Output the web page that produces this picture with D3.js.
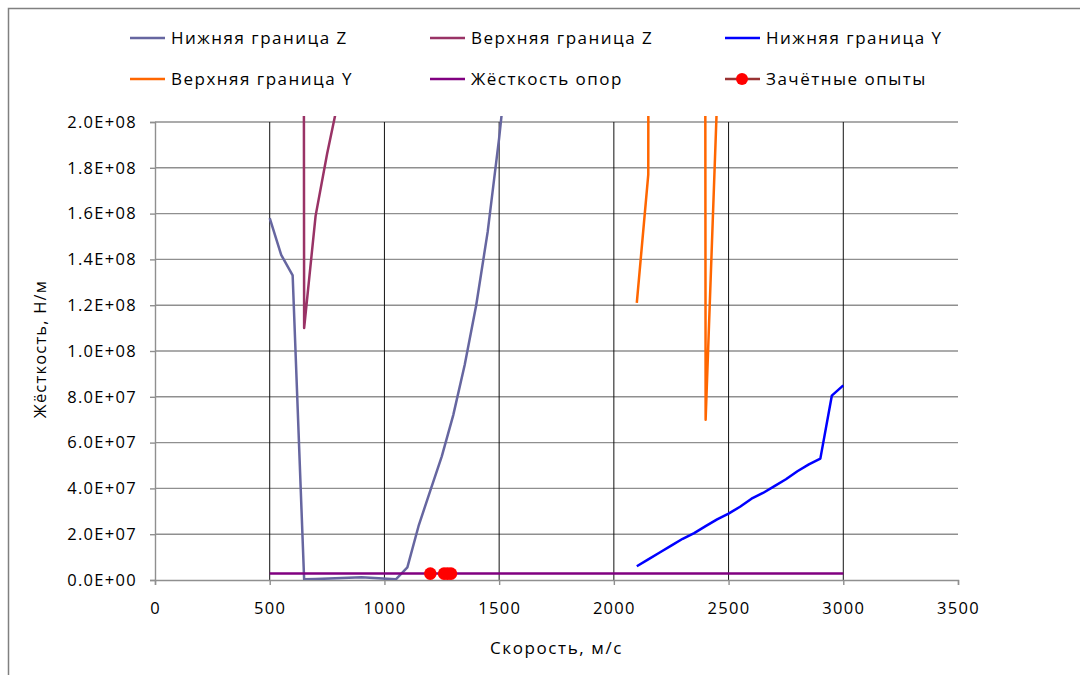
<!DOCTYPE html>
<html>
<head>
<meta charset="utf-8">
<script src="https://cdn.jsdelivr.net/npm/d3@7"></script>
<style>
  body { margin: 0; background: #fff; }
  text { font-family: "Open Sans", "Noto Sans", sans-serif; fill: #000; }
</style>
</head>
<body>
<div id="chart"></div>
<script>
// series data
const zLowX = [500, 550, 600, 650, 700, 900, 1050, 1100, 1150, 1200, 1250, 1300, 1350, 1400, 1450, 1500, 1550];
const zLowY = [1.58e8, 1.42e8, 1.33e8, 0.3e6, 0.4e6, 1.2e6, 0.3e6, 5.5e6, 2.4e7, 3.9e7, 5.4e7, 7.2e7, 9.4e7, 1.2e8, 1.52e8, 1.93e8, 2.4e8];

const zHighX = [600, 650, 700, 750, 800];
const zHighY = [5e9, 1.1e8, 1.59e8, 1.86e8, 2.1e8];

const yLowX = [2100, 2150, 2200, 2250, 2300, 2350, 2400, 2450, 2500, 2550, 2600, 2650, 2700, 2750, 2800, 2850, 2900, 2950, 3000];
const yLowY = [6e6, 9e6, 1.2e7, 1.5e7, 1.8e7, 2.05e7, 2.35e7, 2.65e7, 2.9e7, 3.2e7, 3.55e7, 3.8e7, 4.1e7, 4.4e7, 4.75e7, 5.05e7, 5.3e7, 8.05e7, 8.5e7];

const yHighX = [2100, 2150, 2200, 2350, 2400, 2450];
const yHighY = [1.21e8, 1.77e8, 5e9, 5e9, 7e7, 2.1e8];

const supportX = [500, 3000];
const supportY = [2.8e6, 2.8e6];

const testX = [1200, 1260, 1275, 1290];
const testY = [2.8e6, 2.8e6, 2.8e6, 2.8e6];

const xTicks = [0, 500, 1000, 1500, 2000, 2500, 3000, 3500];
const yTicks = [0, 2e7, 4e7, 6e7, 8e7, 1e8, 1.2e8, 1.4e8, 1.6e8, 1.8e8, 2e8];
const dropX = [500, 1000, 1500, 2000, 2500, 3000];

const seriesNames = ["Нижняя граница Z", "Верхняя граница Z", "Нижняя граница Y",
                     "Верхняя граница Y", "Жёсткость опор", "Зачётные опыты"];
const seriesColors = ["#6666a0", "#993366", "#0000ff", "#ff6600", "#800080", "#ff0000"];

const W = 1080, H = 675;
const margin = {top: 122, right: 122, bottom: 95, left: 155};
const width = W - margin.left - margin.right;
const height = H - margin.top - margin.bottom;

const svg = d3.select("#chart").append("svg")
  .attr("width", W).attr("height", H);

// outer frame
svg.append("rect")
  .attr("x", 8.5).attr("y", 8.5)
  .attr("width", W).attr("height", H)
  .attr("fill", "none").attr("stroke", "#808080").attr("stroke-width", 1.5);

const g = svg.append("g").attr("transform", `translate(${margin.left},${margin.top})`);

const x = d3.scaleLinear().domain([0, 3500]).range([0, width]);
const y = d3.scaleLinear().domain([0, 2e8]).range([height, 0]);

svg.append("clipPath").attr("id", "plotclip")
  .append("rect").attr("x", 0).attr("y", -6).attr("width", width).attr("height", height + 6);

// horizontal gridlines
g.selectAll(".hgrid").data(yTicks.slice(1)).join("line")
  .attr("x1", 0).attr("x2", width)
  .attr("y1", d => y(d)).attr("y2", d => y(d))
  .attr("stroke", "#8f8f8f").attr("stroke-width", 1.4);

// vertical black lines
g.selectAll(".vline").data(dropX).join("line")
  .attr("x1", d => x(d)).attr("x2", d => x(d))
  .attr("y1", y(2e8)).attr("y2", y(0))
  .attr("stroke", "#111").attr("stroke-width", 1);

// axes
const xAxis = g.append("g")
  .attr("transform", `translate(0,${height})`)
  .call(d3.axisBottom(x).tickValues(xTicks).tickSize(5).tickPadding(17).tickFormat(d3.format("d")));
const yAxis = g.append("g")
  .call(d3.axisLeft(y).tickValues(yTicks).tickSize(5).tickPadding(13)
    .tickFormat(d => {
      const e = d3.format(".1e")(d);           // "2.0e+8"
      const [m, p] = e.split("e");
      const ex = Math.abs(+p);
      return m + "E" + (+p < 0 ? "-" : "+") + (ex < 10 ? "0" : "") + ex;
    }));
[xAxis, yAxis].forEach(a => {
  a.selectAll(".domain").attr("stroke", "#8f8f8f").attr("stroke-width", 1.4);
  a.selectAll(".tick line").attr("stroke", "#8f8f8f").attr("stroke-width", 1.4);
  a.selectAll(".tick text").style("font-size", "16.5px").style("letter-spacing", "1.3px")
    .attr("fill", "#000");
});

// series lines
const plot = g.append("g").attr("clip-path", "url(#plotclip)");
const line = d3.line().x(d => x(d[0])).y(d => y(d[1]));
const lineSeries = [
  [zLowX, zLowY], [zHighX, zHighY], [yLowX, yLowY], [yHighX, yHighY], [supportX, supportY]
];
lineSeries.forEach(([xs, ys], i) => {
  plot.append("path")
    .datum(xs.map((v, j) => [v, ys[j]]))
    .attr("fill", "none")
    .attr("stroke", seriesColors[i])
    .attr("stroke-width", 2.5)
    .attr("stroke-linejoin", "round")
    .attr("d", line);
});

// test points
plot.selectAll(".test").data(testX.map((v, j) => [v, testY[j]])).join("circle")
  .attr("cx", d => x(d[0])).attr("cy", d => y(d[1])).attr("r", 6.3)
  .attr("fill", "#ff0000");

// axis titles
svg.append("text")
  .attr("x", margin.left + x(1750)).attr("y", 654)
  .attr("text-anchor", "middle").style("font-size", "17px").style("letter-spacing", "1.6px")
  .text("Скорость, м/с");
svg.append("text")
  .attr("transform", `translate(46,${margin.top + height / 2 - 2}) rotate(-90)`)
  .attr("text-anchor", "middle").style("font-size", "16.5px").style("letter-spacing", "1.2px")
  .text("Жёсткость, Н/м");

// legend
const legX = [130, 430, 725];
const legY = [38, 79];
seriesNames.forEach((name, i) => {
  const lx = legX[i % 3], ly = legY[Math.floor(i / 3)];
  const item = svg.append("g").attr("transform", `translate(${lx},${ly})`);
  item.append("line")
    .attr("x1", 0).attr("x2", 35).attr("y1", 0).attr("y2", 0)
    .attr("stroke", i === 5 ? "#993333" : seriesColors[i]).attr("stroke-width", 2.5);
  if (i === 5) {
    item.append("circle").attr("cx", 17).attr("cy", 0).attr("r", 6).attr("fill", "#ff0000");
  }
  item.append("text")
    .attr("x", 41).attr("y", 0).attr("dy", "0.35em")
    .style("font-size", "17px").style("letter-spacing", "1.5px")
    .text(name);
});
</script>
</body>
</html>
